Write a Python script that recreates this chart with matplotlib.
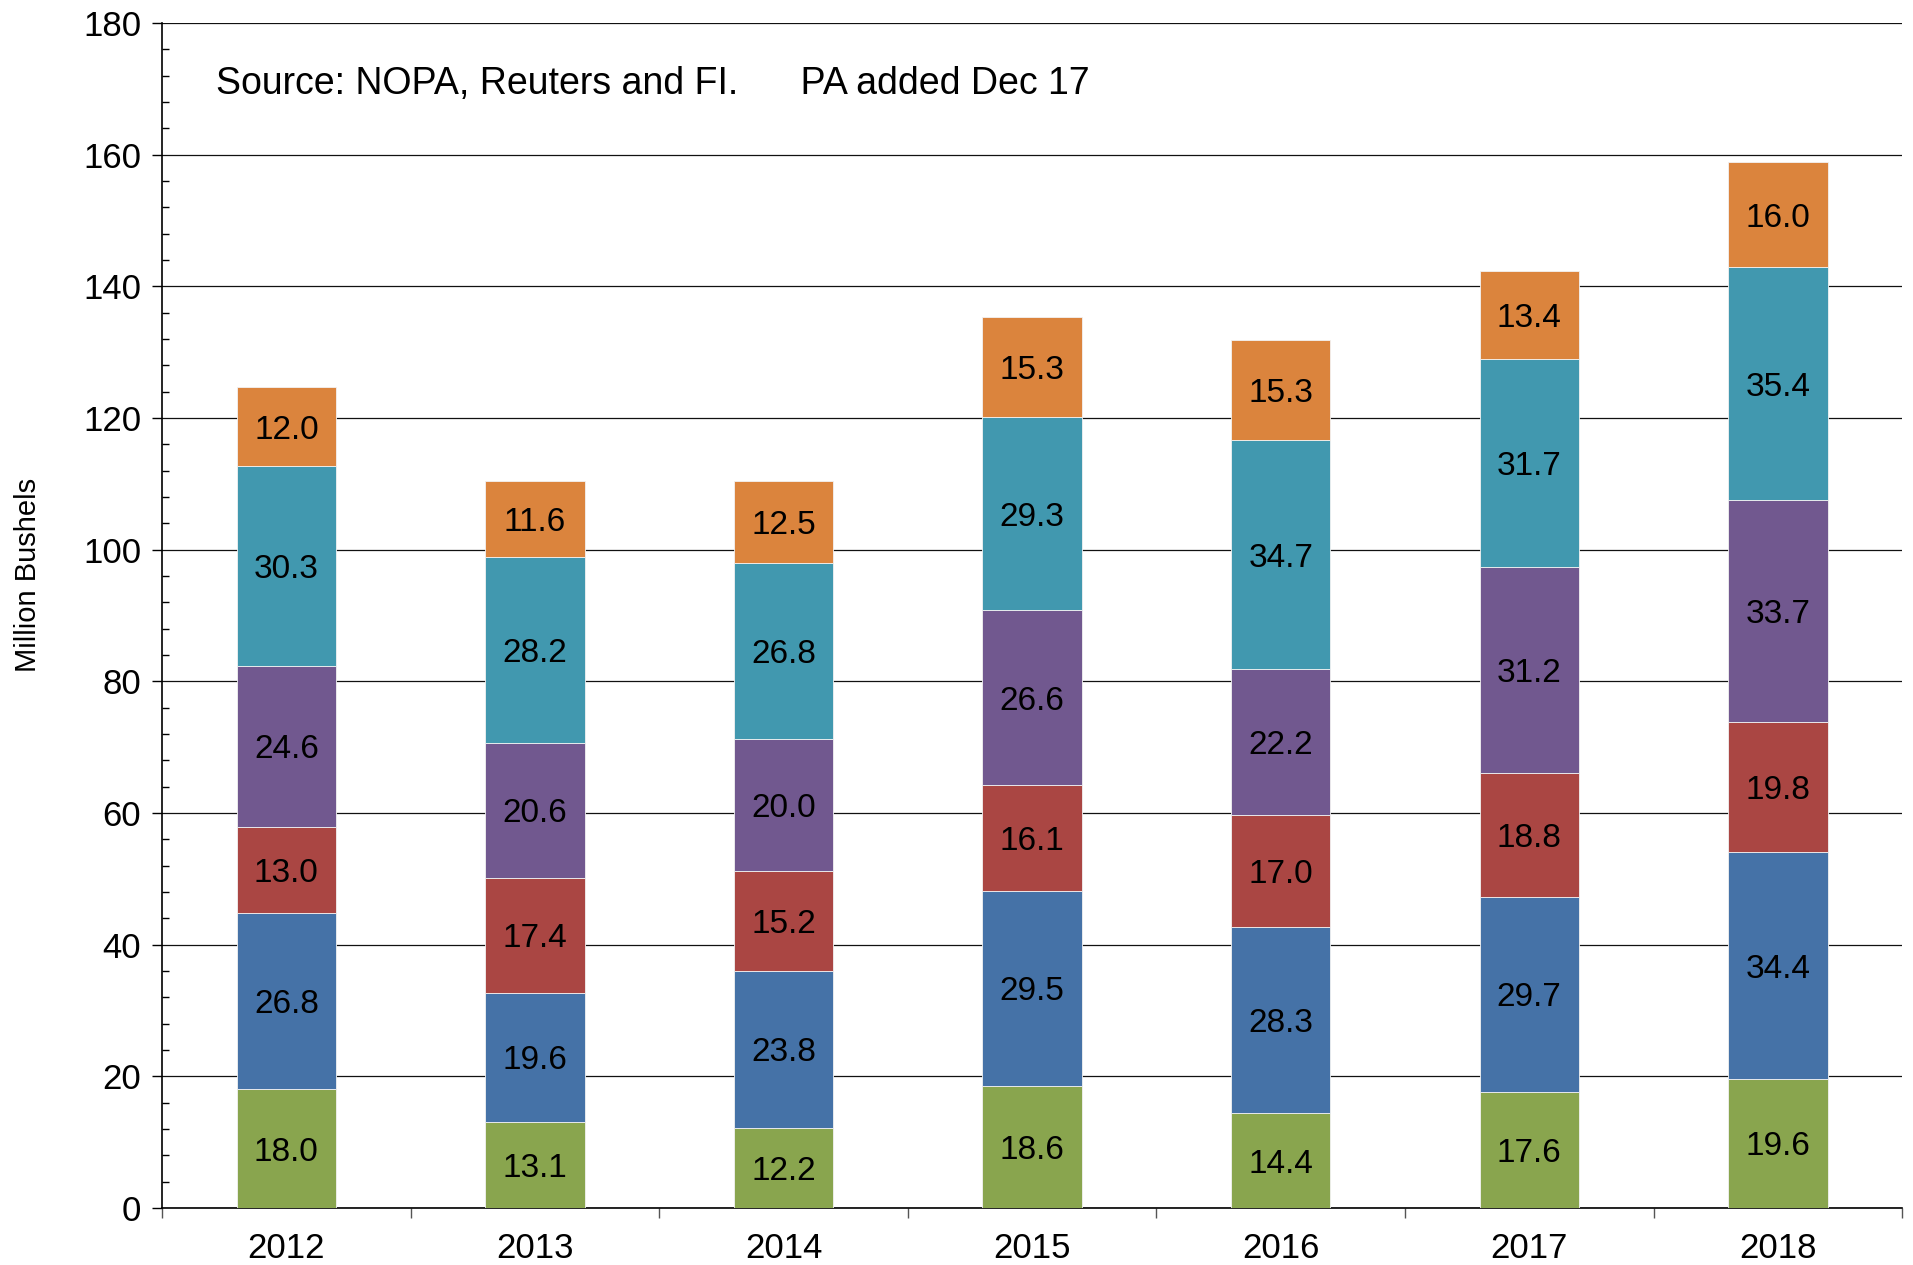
import numpy as np
import matplotlib
matplotlib.use('Agg')
import matplotlib.pyplot as plt
from matplotlib.ticker import MultipleLocator, FixedLocator

plt.rcParams['font.family'] = ['Liberation Sans', 'DejaVu Sans']

# data (million bushels), bottom to top of each stack
years = ['2012', '2013', '2014', '2015', '2016', '2017', '2018']
seg1 = [18.0, 13.1, 12.2, 18.6, 14.4, 17.6, 19.6]
seg2 = [26.8, 19.6, 23.8, 29.5, 28.3, 29.7, 34.4]
seg3 = [13.0, 17.4, 15.2, 16.1, 17.0, 18.8, 19.8]
seg4 = [24.6, 20.6, 20.0, 26.6, 22.2, 31.2, 33.7]
seg5 = [30.3, 28.2, 26.8, 29.3, 34.7, 31.7, 35.4]
seg6 = [12.0, 11.6, 12.5, 15.3, 15.3, 13.4, 16.0]

series = [seg1, seg2, seg3, seg4, seg5, seg6]
colors = ['#89A54E', '#4572A7', '#AA4643', '#71588F', '#4198AF', '#DB843D']

fig = plt.figure(figsize=(19.13, 12.65), dpi=100)
ax = fig.add_axes([0.0847, 0.0451, 0.9096, 0.9367])

x = np.arange(len(years))
bottom = np.zeros(len(years))
for vals, c in zip(series, colors):
    vals = np.array(vals)
    ax.bar(x, vals, width=0.4, bottom=bottom, color=c, edgecolor='#f2f2f2',
           linewidth=0.6, zorder=3)
    for xi, b, v in zip(x, bottom, vals):
        ax.text(xi, b + v / 2, f'{v:.1f}', ha='center', va='center_baseline',
                fontsize=24, color='black', zorder=4)
    bottom += vals

ax.set_xlim(-0.5, len(years) - 0.5)
ax.set_ylim(0, 180)

# y axis
ax.yaxis.set_major_locator(MultipleLocator(20))
ax.yaxis.set_minor_locator(MultipleLocator(4))
ax.tick_params(axis='y', which='major', direction='out', length=7, width=1,
               labelsize=25, pad=8)
ax.tick_params(axis='y', which='minor', direction='in', length=5, width=1)
ax.grid(axis='y', which='major', color='#111111', linewidth=0.9, zorder=0)
ax.yaxis.get_gridlines()[-1].set_color('#999999')
ax.set_ylabel('Million Bushels', fontsize=21)
ax.yaxis.set_label_coords(-0.069, 0.534)

# x axis: ticks on category boundaries, labels at centres
ax.xaxis.set_major_locator(FixedLocator(np.arange(-0.5, len(years), 1.0)))
ax.xaxis.set_major_formatter(plt.NullFormatter())
ax.xaxis.set_minor_locator(FixedLocator(x))
ax.set_xticklabels(years, minor=True)
ax.tick_params(axis='x', which='major', direction='out', length=7, width=1,
               color='#555555')
ax.tick_params(axis='x', which='minor', length=0, labelsize=25, pad=17)

for s in ['top', 'right']:
    ax.spines[s].set_visible(False)
ax.spines['left'].set_linewidth(1.2)
ax.spines['bottom'].set_linewidth(1.2)

ax.text(0.031, 170.8, 'Source: NOPA, Reuters and FI.      PA added Dec 17',
        transform=ax.get_yaxis_transform(), fontsize=27, va='center', ha='left')

fig.savefig('out.png', dpi=100)
